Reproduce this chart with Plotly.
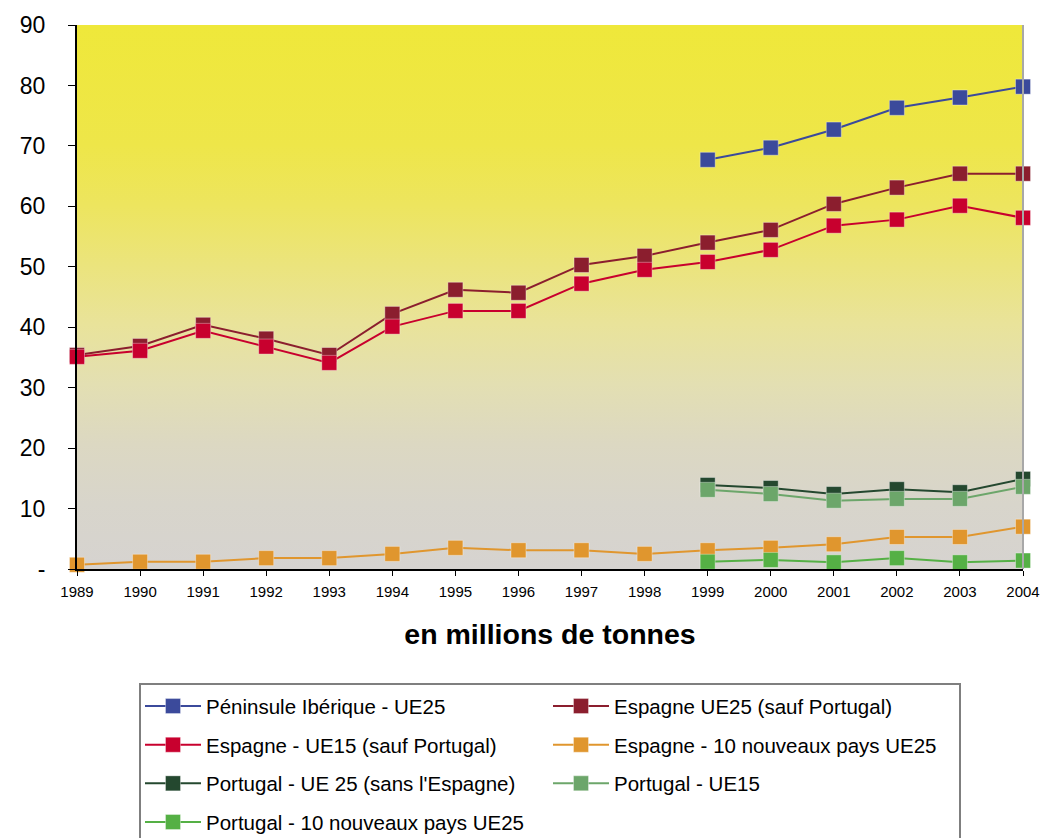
import plotly.graph_objects as go

years = list(range(1989, 2005))
years_99 = list(range(1999, 2005))

peninsule_ue25 = [67.7, 69.7, 72.7, 76.3, 78.0, 79.8]
espagne_ue25 = [35.4, 36.9, 40.4, 38.1, 35.4, 42.2, 46.2, 45.7, 50.3, 51.8,
                54.0, 56.1, 60.4, 63.1, 65.4, 65.4]
espagne_ue15 = [35.1, 36.1, 39.4, 36.8, 34.1, 40.1, 42.7, 42.7, 47.2, 49.5,
                50.8, 52.8, 56.8, 57.8, 60.1, 58.1]
espagne_10np = [0.7, 1.2, 1.2, 1.8, 1.8, 2.5, 3.5, 3.1, 3.1, 2.5,
                3.1, 3.5, 4.1, 5.3, 5.3, 7.0]
portugal_ue25 = [13.9, 13.4, 12.4, 13.2, 12.7, 14.9]
portugal_ue15 = [13.1, 12.4, 11.3, 11.6, 11.6, 13.6]
portugal_10np = [1.2, 1.5, 1.1, 1.8, 1.1, 1.4]

ytick_vals = [0, 10, 20, 30, 40, 50, 60, 70, 80, 90]
ytick_text = ["-", "10", "20", "30", "40", "50", "60", "70", "80", "90"]

# (name, x, y, colour, legend column)
series = [
    ("Péninsule Ibérique - UE25", years_99, peninsule_ue25, "#3B4A9B", "legend"),
    ("Espagne UE25 (sauf Portugal)", years, espagne_ue25, "#8B1E2E", "legend2"),
    ("Espagne - UE15 (sauf Portugal)", years, espagne_ue15, "#C8002E", "legend"),
    ("Espagne - 10 nouveaux pays UE25", years, espagne_10np, "#E0962E", "legend2"),
    ("Portugal - UE 25 (sans l'Espagne)", years_99, portugal_ue25, "#24482F", "legend"),
    ("Portugal - UE15", years_99, portugal_ue15, "#6CA66A", "legend2"),
    ("Portugal - 10 nouveaux pays UE25", years_99, portugal_10np, "#55B045", "legend"),
]

fig = go.Figure()

# gradient background of the plot area
x0, x1 = years[0], years[-1]
y0, y1 = ytick_vals[0], ytick_vals[-1]
fig.add_trace(go.Scatter(
    x=[x0, x1, x1, x0, x0], y=[y0, y0, y1, y1, y0],
    fill="toself", mode="none", showlegend=False, hoverinfo="skip",
    fillgradient=dict(type="vertical", colorscale=[
        [0.0, "#D6D3D0"], [0.12, "#D8D5CB"], [0.23, "#DCD8C2"],
        [0.34, "#E3DFB2"], [0.45, "#E9E39A"], [0.56, "#EBE47C"],
        [0.67, "#EDE55E"], [0.78, "#EEE649"], [1.0, "#EFE83A"]]),
))

for i, (name, xs, ys, color, leg) in enumerate(series):
    fig.add_trace(go.Scatter(
        x=xs, y=ys, name=name, mode="lines+markers", cliponaxis=False,
        line=dict(color=color, width=2),
        marker=dict(symbol="square", size=15, color=color,
                    line=dict(width=1, color="rgba(255,255,255,0.35)")),
        legend=leg, legendgroup=str(i),
    ))

legend_style = dict(yanchor="top", y=-0.2155, xanchor="left",
                    orientation="v", tracegroupgap=9, itemwidth=56,
                    bgcolor="rgba(0,0,0,0)", font=dict(size=20.5))

fig.update_layout(
    width=1042, height=838,
    margin=dict(l=77, r=19, t=25, b=269, autoexpand=False),
    paper_bgcolor="white",
    plot_bgcolor="rgba(0,0,0,0)",
    font=dict(family="Liberation Sans, Arial, sans-serif", color="black"),
    xaxis=dict(
        range=[x0, x1], tickvals=years, ticks="outside", ticklen=5,
        tickcolor="black", showgrid=False, zeroline=False, automargin=False,
        showline=True, linecolor="black", linewidth=2,
        tickfont=dict(size=15), ticklabelstandoff=3,
        title=dict(text="<b>en millions de tonnes</b>", font=dict(size=28.5),
                   standoff=25),
    ),
    yaxis=dict(
        range=[y0, y1], tickvals=ytick_vals, ticktext=ytick_text,
        ticks="outside", ticklen=7, tickcolor="black", automargin=False,
        showgrid=True, gridcolor="#A8A8A8", gridwidth=2, zeroline=False,
        showline=True, linecolor="black", linewidth=2,
        tickfont=dict(size=23), ticklabelstandoff=18,
    ),
    legend=dict(x=(140 - 77) / 946, **legend_style),
    legend2=dict(x=(548 - 77) / 946, **legend_style),
    shapes=[
        dict(type="line", xref="paper", yref="paper", x0=1, x1=1, y0=0, y1=1,
             line=dict(color="#A8A8A8", width=2)),
        dict(type="rect", xref="paper", yref="paper",
             x0=(140 - 77) / 946, x1=(960 - 77) / 946,
             y0=-(850 - 569) / 544, y1=-(684 - 569) / 544,
             line=dict(color="#7F7F7F", width=2), fillcolor="rgba(0,0,0,0)"),
    ],
)

fig.write_html("out.html", config={"displayModeBar": False},
               post_script="document.body.style.margin='0';"
                           "document.body.style.overflow='hidden';")
